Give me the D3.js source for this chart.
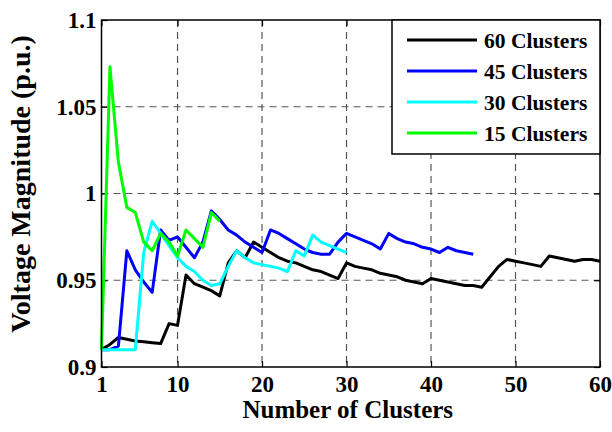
<!DOCTYPE html>
<html>
<head>
<meta charset="utf-8">
<script src="https://cdn.jsdelivr.net/npm/d3@7"></script>
<style>
 body { margin: 0; background: #fff; }
</style>
</head>
<body>
<div id="chart"></div>
<script>
// data
var seriesNames = ["60 Clusters", "45 Clusters", "30 Clusters", "15 Clusters"];
var seriesColors = ["#000000", "#0000ff", "#00ffff", "#00ff00"];

var black60 = [0.910, 0.913, 0.917, 0.916, 0.915, 0.9145, 0.914, 0.9135, 0.925, 0.924,
 0.953, 0.948, 0.946, 0.944, 0.941, 0.960, 0.967, 0.963, 0.972, 0.969,
 0.966, 0.963, 0.961, 0.960, 0.958, 0.956, 0.955, 0.953, 0.951, 0.960,
 0.958, 0.957, 0.956, 0.954, 0.953, 0.952, 0.950, 0.949, 0.948, 0.951,
 0.950, 0.949, 0.948, 0.947, 0.947, 0.946, 0.952, 0.958, 0.962, 0.961,
 0.960, 0.959, 0.958, 0.964, 0.963, 0.962, 0.961, 0.962, 0.962, 0.961];
var blue45 = [0.910, 0.910, 0.912, 0.967, 0.956, 0.949, 0.943, 0.979, 0.973, 0.975,
 0.969, 0.963, 0.972, 0.990, 0.985, 0.979, 0.976, 0.972, 0.969, 0.966,
 0.979, 0.977, 0.974, 0.971, 0.968, 0.966, 0.965, 0.965, 0.972, 0.977,
 0.975, 0.973, 0.971, 0.968, 0.977, 0.974, 0.972, 0.971, 0.969, 0.968,
 0.966, 0.969, 0.967, 0.966, 0.965];
var cyan30 = [0.910, 0.910, 0.910, 0.910, 0.910, 0.966, 0.984, 0.977, 0.970, 0.963,
 0.958, 0.955, 0.950, 0.947, 0.948, 0.958, 0.967, 0.963, 0.960, 0.959,
 0.958, 0.957, 0.955, 0.967, 0.964, 0.976, 0.972, 0.970, 0.968, 0.966];
var green15 = [0.910, 1.073, 1.018, 0.992, 0.989, 0.972, 0.967, 0.977, 0.972, 0.964,
 0.979, 0.974, 0.969, 0.989, 0.984];

var xTicks = [1, 10, 20, 30, 40, 50, 60];
var yTicks = [0.9, 0.95, 1, 1.05, 1.1];

var FONT = "'Liberation Serif', 'Times New Roman', serif";

//svg dimensions
var svgWidth = 612;
var svgHeight = 432;
var plot = { left: 101.5, right: 600, top: 20, bottom: 367 };

var svg = d3.select("#chart")
 .append("svg")
 .attr("width", svgWidth)
 .attr("height", svgHeight);

var x = d3.scaleLinear().domain([1, 60]).range([plot.left, plot.right]);
var y = d3.scaleLinear().domain([0.9, 1.1]).range([plot.bottom, plot.top]);

// grid lines
var grid = svg.append("g")
 .attr("stroke", "#555")
 .attr("stroke-width", 1.2)
 .attr("stroke-dasharray", "7,5");

grid.selectAll("line.gx")
 .data(xTicks.slice(1, -1))
 .enter().append("line")
 .attr("x1", d => x(d)).attr("x2", d => x(d))
 .attr("y1", plot.top).attr("y2", plot.bottom);

grid.selectAll("line.gy")
 .data(yTicks.slice(1, -1))
 .enter().append("line")
 .attr("x1", plot.left).attr("x2", plot.right)
 .attr("y1", d => y(d)).attr("y2", d => y(d));

// axes: ticks point inward, labels outside
var bottomAxis = d3.axisBottom(x).tickValues(xTicks).tickSizeInner(-6).tickSizeOuter(0).tickPadding(9).tickFormat(d3.format("d"));
var topAxis = d3.axisTop(x).tickValues(xTicks).tickSizeInner(-6).tickSizeOuter(0).tickFormat("");
var leftAxis = d3.axisLeft(y).tickValues(yTicks).tickSizeInner(-6).tickSizeOuter(0).tickPadding(5).tickFormat(d => String(+d.toFixed(2)));
var rightAxis = d3.axisRight(y).tickValues(yTicks).tickSizeInner(-6).tickSizeOuter(0).tickFormat("");

function styleAxis(g) {
 g.select(".domain").remove();
 g.selectAll(".tick line").attr("stroke", "#000").attr("stroke-width", 1.2);
 g.selectAll(".tick text")
  .style("font-family", FONT).style("font-weight", "bold").style("font-size", "23px").attr("fill", "#000");
}

svg.append("g").attr("transform", `translate(0, ${plot.bottom})`).call(bottomAxis).call(styleAxis);
svg.append("g").attr("transform", `translate(0, ${plot.top})`).call(topAxis).call(styleAxis);
svg.append("g").attr("transform", `translate(${plot.left}, 0)`).call(leftAxis).call(styleAxis);
svg.append("g").attr("transform", `translate(${plot.right}, 0)`).call(rightAxis).call(styleAxis);

// lines
var series = [black60, blue45, cyan30, green15];
var line = d3.line()
 .x((d, i) => x(i + 1))
 .y(d => y(d));

svg.append("g").selectAll("path")
 .data(series)
 .enter().append("path")
 .attr("d", d => line(d))
 .attr("fill", "none")
 .attr("stroke", (d, i) => seriesColors[i])
 .attr("stroke-width", 3)
 .attr("stroke-linejoin", "round");

// box round the plot
svg.append("rect")
 .attr("x", plot.left).attr("y", plot.top)
 .attr("width", plot.right - plot.left).attr("height", plot.bottom - plot.top)
 .attr("fill", "none").attr("stroke", "#000").attr("stroke-width", 1.5);

// legend
var legend = svg.append("g").attr("transform", "translate(392, 20)");
legend.append("rect")
 .attr("width", 208).attr("height", 134)
 .attr("fill", "#fff").attr("stroke", "#000").attr("stroke-width", 1.5);

var items = legend.selectAll("g.item")
 .data(seriesNames)
 .enter().append("g")
 .attr("transform", (d, i) => `translate(0, ${20 + i * 31})`);

items.append("line")
 .attr("x1", 15).attr("x2", 85)
 .attr("stroke", (d, i) => seriesColors[i])
 .attr("stroke-width", 3);

items.append("text")
 .attr("x", 92).attr("dy", "0.35em")
 .style("font-family", FONT).style("font-weight", "bold").style("font-size", "21.5px")
 .text(d => d);

// axis labels
svg.append("text")
 .attr("x", (plot.left + plot.right) / 2 - 3)
 .attr("y", 418)
 .attr("text-anchor", "middle")
 .style("font-family", FONT).style("font-weight", "bold").style("font-size", "25px")
 .text("Number of Clusters");

svg.append("text")
 .attr("transform", "translate(30, 184) rotate(-90)")
 .attr("text-anchor", "middle")
 .style("font-family", FONT).style("font-weight", "bold").style("font-size", "28px")
 .text("Voltage Magnitude (p.u.)");
</script>
</body>
</html>
